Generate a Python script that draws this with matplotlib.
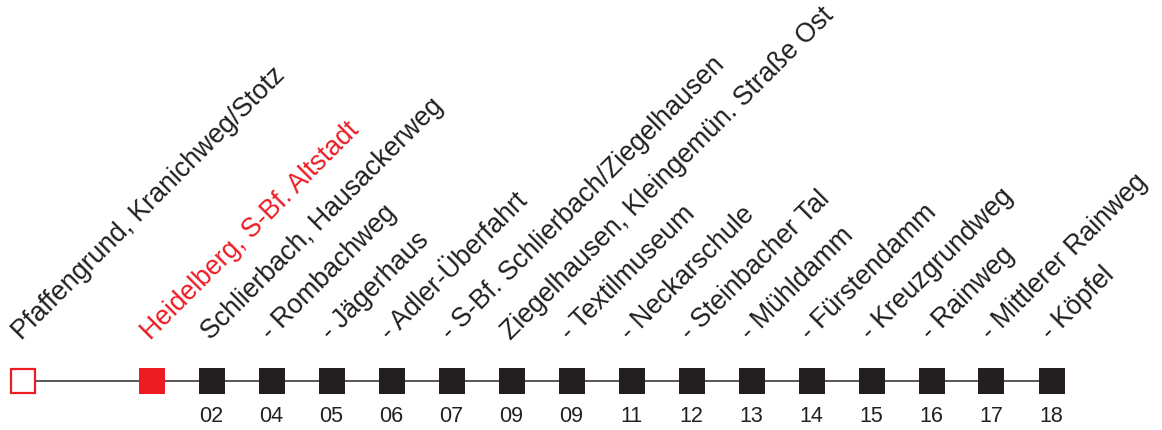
import matplotlib
matplotlib.use("Agg")
import matplotlib.pyplot as plt

# ---- data ----
stations = [
    "Pfaffengrund, Kranichweg/Stotz",
    "Heidelberg, S-Bf. Altstadt",
    "Schlierbach, Hausackerweg",
    "- Rombachweg",
    "- Jägerhaus",
    "- Adler-Überfahrt",
    "- S-Bf. Schlierbach/Ziegelhausen",
    "Ziegelhausen, Kleingemün. Straße Ost",
    "- Textilmuseum",
    "- Neckarschule",
    "- Steinbacher Tal",
    "- Mühldamm",
    "- Fürstendamm",
    "- Kreuzgrundweg",
    "- Rainweg",
    "- Mittlerer Rainweg",
    "- Köpfel",
]
# distance (in stop spacings) from previous stop
gaps = [0, 2.15] + [1] * 15
minutes = ["", "", "02", "04", "05", "06", "07", "09", "09", "11", "12", "13",
           "14", "15", "16", "17", "18"]
# 0 = open red (origin), 1 = filled red (highlight), 2 = normal black
kinds = [0, 1] + [2] * 15

RED = "#ED1C24"
BLACK = "#231F20"

xs = []
acc = 0.0
for g in gaps:
    acc += g
    xs.append(acc)

fig = plt.figure(figsize=(11.62, 4.31), dpi=100)
ax = fig.add_axes([0, 0, 1, 1])
ax.set_xlim(-0.375, -0.375 + 1162 / 60)
ax.set_ylim(-49, 382)
ax.axis("off")

font = ["Liberation Sans", "DejaVu Sans"]

ax.plot(xs, [0] * len(xs), color="#3a3a3a", lw=1.2, zorder=1)

for x, name, m, k in zip(xs, stations, minutes, kinds):
    if k == 0:
        ax.plot([x], [0], marker="s", ms=17, mfc="white", mec=RED, mew=1.6, zorder=3)
        col = BLACK
    elif k == 1:
        ax.plot([x], [0], marker="s", ms=18.5, mfc=RED, mec=RED, mew=0, zorder=3)
        col = RED
    else:
        ax.plot([x], [0], marker="s", ms=18.5, mfc=BLACK, mec=BLACK, mew=0, zorder=3)
        col = BLACK
    ax.text(x - 0.02, 41, name, rotation=45, rotation_mode="anchor",
            ha="left", va="baseline", fontsize=19.2, color=col, family=font)
    if m:
        ax.text(x, -35, m, ha="center", va="center", fontsize=15.5,
                color=BLACK, family=font)

fig.savefig("out.png", dpi=100)
